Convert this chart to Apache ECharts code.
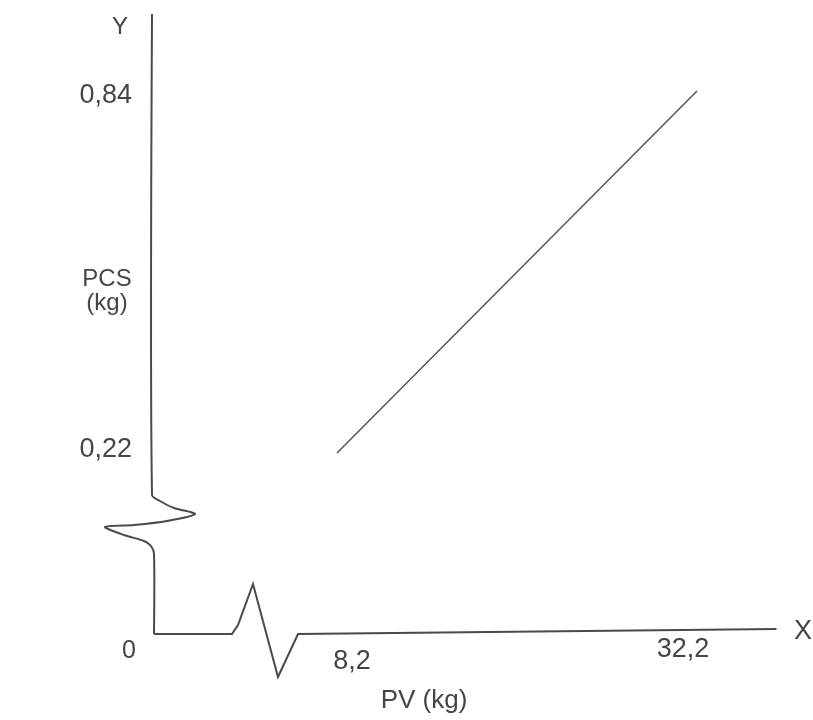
<!DOCTYPE html>
<html>
<head>
<meta charset="utf-8">
<script src="https://cdn.jsdelivr.net/npm/echarts@6/dist/echarts.min.js"></script>
<style>html,body{margin:0;padding:0;background:#fff}#c{width:813px;height:720px}</style>
</head>
<body>
<div id="c"></div>
<script>
// Data
const xTicks = [8.2, 32.2];          // PV (kg) labelled ticks
const yTicks = [0.22, 0.84];         // PCS (kg) labelled ticks
const lineX = [8.2, 32.2];           // regression line, x values
const lineY = [0.22, 0.84];          // regression line, y values
const originLabel = '0';
const xName = 'PV (kg)';
const yName = ['PCS', '(kg)'];

const fmt = v => String(v).replace('.', ',');
const FONT = '"Liberation Sans", Arial, sans-serif';
const TXT = '#454545';
const AX = '#4a4a4a';
// hand-lettered label offsets (style only)
const xLabelStyle = {
  a: {padding: [12, 0, 0, 30]},
  b: {padding: [0, 28, 0, 0]}
};
const yLabelStyle = {
  a: {padding: [0, 0, 6, 0]},
  b: {padding: [10, 0, 0, 0]}
};
const base = {fontFamily: FONT, fontSize: 27, color: TXT};

const chart = echarts.init(document.getElementById('c'), null, {renderer: 'canvas'});
chart.setOption({
  backgroundColor: '#fff',
  animation: false,
  grid: {left: 154, right: 36.5, top: 15, bottom: 86, containLabel: false},
  xAxis: {
    type: 'value', min: -4, max: 37.5,
    axisLine: {show: false}, axisTick: {show: false}, splitLine: {show: false},
    axisLabel: Object.assign({customValues: xTicks, margin: 2,
      formatter: v => (v === xTicks[0] ? '{a|' : '{b|') + fmt(v) + '}',
      rich: {a: Object.assign({}, base, xLabelStyle.a), b: Object.assign({}, base, xLabelStyle.b)}
    }, base)
  },
  yAxis: {
    type: 'value', min: -0.09, max: 0.97,
    axisLine: {show: false}, axisTick: {show: false}, splitLine: {show: false},
    axisLabel: Object.assign({customValues: yTicks, margin: 22,
      formatter: v => (v === yTicks[0] ? '{a|' : '{b|') + fmt(v) + '}',
      rich: {a: Object.assign({}, base, yLabelStyle.a), b: Object.assign({}, base, yLabelStyle.b)}
    }, base)
  },
  series: [{
    type: 'line',
    data: lineX.map((x, i) => [x, lineY[i]]),
    symbol: 'none',
    lineStyle: {color: '#555', width: 1.5},
    silent: true
  }]
});

// Hand-drawn broken axes, positioned from the axis origin
const pO = chart.convertToPixel({gridIndex: 0}, [-4, -0.09]);
const pTop = chart.convertToPixel({gridIndex: 0}, [-4, 0.97]);
const pRight = chart.convertToPixel({gridIndex: 0}, [37.5, -0.09]);
const ox = pO[0], oy = pO[1];
const rel = pts => pts.map(p => [ox + p[0], oy + p[1]]);

const yPath = [[ox - 2, pTop[1] - 1]].concat(rel([
  [-2, -139], [6, -133], [20, -126], [41, -120], [13, -113],
  [-20, -109], [-49, -107], [-30, -99], [-10, -93], [-3, -88], [0, -80], [0, 0]
]));
const xPath = rel([
  [0, 0], [78, 0], [84, -9], [99, -50], [124, 43], [144, 0], [pRight[0] - ox, -5]
]);

chart.setOption({
  graphic: [
    {type: 'polyline', shape: {points: yPath, smooth: 0.25},
     style: {stroke: AX, lineWidth: 2, fill: null}, silent: true},
    {type: 'polyline', shape: {points: xPath},
     style: {stroke: AX, lineWidth: 2, fill: null}, silent: true},
    {type: 'text', x: 120, y: 27, style: {text: 'Y', font: '24px ' + FONT, fill: TXT, align: 'center', verticalAlign: 'middle'}},
    {type: 'text', x: 803, y: 632, style: {text: 'X', font: '27px ' + FONT, fill: TXT, align: 'center', verticalAlign: 'middle'}},
    {type: 'text', x: 129, y: 651, style: {text: originLabel, font: '25px ' + FONT, fill: TXT, align: 'center', verticalAlign: 'middle'}},
    {type: 'text', x: 107, y: 279, style: {text: yName[0], font: '24px ' + FONT, fill: TXT, align: 'center', verticalAlign: 'middle'}},
    {type: 'text', x: 107, y: 303, style: {text: yName[1], font: '24px ' + FONT, fill: TXT, align: 'center', verticalAlign: 'middle'}},
    {type: 'text', x: 424, y: 701, style: {text: xName, font: '26px ' + FONT, fill: TXT, align: 'center', verticalAlign: 'middle'}}
  ]
});
</script>
</body>
</html>
